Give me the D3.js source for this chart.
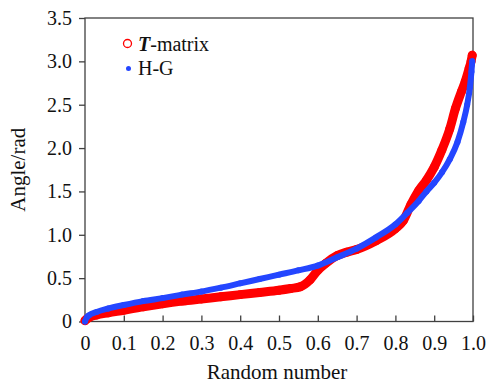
<!DOCTYPE html>
<html>
<head>
<meta charset="utf-8">
<script src="https://cdn.jsdelivr.net/npm/d3@7"></script>
<style>
  body { margin: 0; background: #fff; }
  svg text { font-family: "Liberation Serif", serif !important; fill: #111; }
</style>
</head>
<body>
<svg id="chart" width="488" height="385"></svg>
<script>
// Data
var tmX = [0, 0.005, 0.01, 0.03, 0.06, 0.1, 0.15, 0.2, 0.25, 0.3, 0.35, 0.4, 0.45, 0.5, 0.53, 0.555, 0.58, 0.6, 0.62, 0.65, 0.675, 0.7, 0.75, 0.8, 0.82, 0.84, 0.86, 0.88, 0.9, 0.92, 0.94, 0.955, 0.97, 0.98, 0.99, 0.995, 0.998];
var tmY = [0.01, 0.03, 0.045, 0.075, 0.10, 0.13, 0.17, 0.205, 0.235, 0.26, 0.285, 0.31, 0.335, 0.36, 0.38, 0.40, 0.48, 0.59, 0.67, 0.76, 0.80, 0.83, 0.93, 1.07, 1.16, 1.35, 1.51, 1.63, 1.78, 1.98, 2.22, 2.46, 2.65, 2.77, 2.92, 3.0, 3.07];
var hgX = [0, 0.005, 0.01, 0.03, 0.06, 0.1, 0.15, 0.2, 0.25, 0.3, 0.35, 0.4, 0.45, 0.5, 0.55, 0.6, 0.65, 0.7, 0.75, 0.8, 0.83, 0.86, 0.88, 0.9, 0.92, 0.94, 0.96, 0.975, 0.985, 0.992, 0.996, 0.998];
var hgY = [0.0, 0.05, 0.07, 0.11, 0.15, 0.19, 0.235, 0.27, 0.31, 0.345, 0.39, 0.44, 0.49, 0.54, 0.59, 0.645, 0.74, 0.84, 0.97, 1.12, 1.25, 1.39, 1.50, 1.60, 1.72, 1.87, 2.07, 2.30, 2.50, 2.70, 2.88, 3.0];
var xTicks = [0, 0.1, 0.2, 0.3, 0.4, 0.5, 0.6, 0.7, 0.8, 0.9, 1.0];
var yTicks = [0, 0.5, 1.0, 1.5, 2.0, 2.5, 3.0, 3.5];

var serif = "'Liberation Serif', serif";
var svg = d3.select("#chart");
var mLeft = 85, mRight = 473, mTop = 18, mBottom = 321.5;

var x = d3.scaleLinear().domain([0, 1]).range([mLeft, mRight]);
var y = d3.scaleLinear().domain([0, 3.5]).range([mBottom, mTop]);

var fmt = function(d) { return d === 0 ? "0" : d3.format(".1f")(d); };

// frame
svg.append("rect")
   .attr("x", mLeft).attr("y", mTop)
   .attr("width", mRight - mLeft).attr("height", mBottom - mTop)
   .attr("fill", "none").attr("stroke", "#404040").attr("stroke-width", 1.3);

// y axis (ticks outward)
var yAxis = svg.append("g").attr("transform", "translate(" + mLeft + ",0)")
   .call(d3.axisLeft(y).tickValues(yTicks).tickFormat(fmt).tickSize(6).tickPadding(7));
// x axis (ticks pointing inward)
var xAxis = svg.append("g").attr("transform", "translate(0," + mBottom + ")")
   .call(d3.axisBottom(x).tickValues(xTicks).tickFormat(fmt).tickSize(-6).tickPadding(14));

[yAxis, xAxis].forEach(function(g) {
  g.attr("font-family", serif).attr("font-size", 20);
  g.select(".domain").remove();
  g.selectAll(".tick line").attr("stroke", "#404040").attr("stroke-width", 1.3);
  g.selectAll(".tick text").style("font-family", serif).style("font-size", "20px").attr("fill", "#111");
});

// series
var tm = tmX.map(function(d, i) { return [d, tmY[i]]; });
var hg = hgX.map(function(d, i) { return [d, hgY[i]]; });
var line = d3.line()
   .x(function(d) { return x(d[0]); })
   .y(function(d) { return y(d[1]); })
   .curve(d3.curveMonotoneX);

svg.append("path").datum(tm)
   .attr("d", line).attr("fill", "none")
   .attr("stroke", "#ff0000").attr("stroke-width", 9)
   .attr("stroke-linecap", "round").attr("stroke-linejoin", "round");
svg.selectAll(".tmPt").data(tm).enter().append("circle")
   .attr("class", "tmPt")
   .attr("cx", function(d) { return x(d[0]); })
   .attr("cy", function(d) { return y(d[1]); })
   .attr("r", 3.8)
   .attr("fill", "none").attr("stroke", "#ff0000").attr("stroke-width", 1.3);

svg.append("path").datum(hg)
   .attr("d", line).attr("fill", "none")
   .attr("stroke", "#2446ff").attr("stroke-width", 6)
   .attr("stroke-linecap", "round").attr("stroke-linejoin", "round");
svg.selectAll(".hgPt").data(hg).enter().append("circle")
   .attr("class", "hgPt")
   .attr("cx", function(d) { return x(d[0]); })
   .attr("cy", function(d) { return y(d[1]); })
   .attr("r", 3)
   .attr("fill", "#2446ff");

// legend
svg.append("circle").attr("cx", 127.5).attr("cy", 43.5).attr("r", 4)
   .attr("fill", "none").attr("stroke", "#ff0000").attr("stroke-width", 1.3);
var lt = svg.append("text").attr("x", 138).attr("y", 50.5)
   .style("font-family", serif).style("font-size", "20px");
lt.append("tspan").text("T").style("font-weight", "bold").style("font-style", "italic");
lt.append("tspan").text("-matrix");
svg.append("circle").attr("cx", 128.5).attr("cy", 68.5).attr("r", 2.5).attr("fill", "#2446ff");
svg.append("text").attr("x", 138).attr("y", 75)
   .style("font-family", serif).style("font-size", "20px").text("H-G");

// axis titles
svg.append("text").attr("x", (mLeft + mRight) / 2 - 2).attr("y", 379)
   .attr("text-anchor", "middle").style("font-family", serif).style("font-size", "21px")
   .text("Random number");
svg.append("text").attr("transform", "translate(25," + ((mTop + mBottom) / 2) + ") rotate(-90)")
   .attr("text-anchor", "middle").style("font-family", serif).style("font-size", "21px")
   .text("Angle/rad");
</script>
</body>
</html>
